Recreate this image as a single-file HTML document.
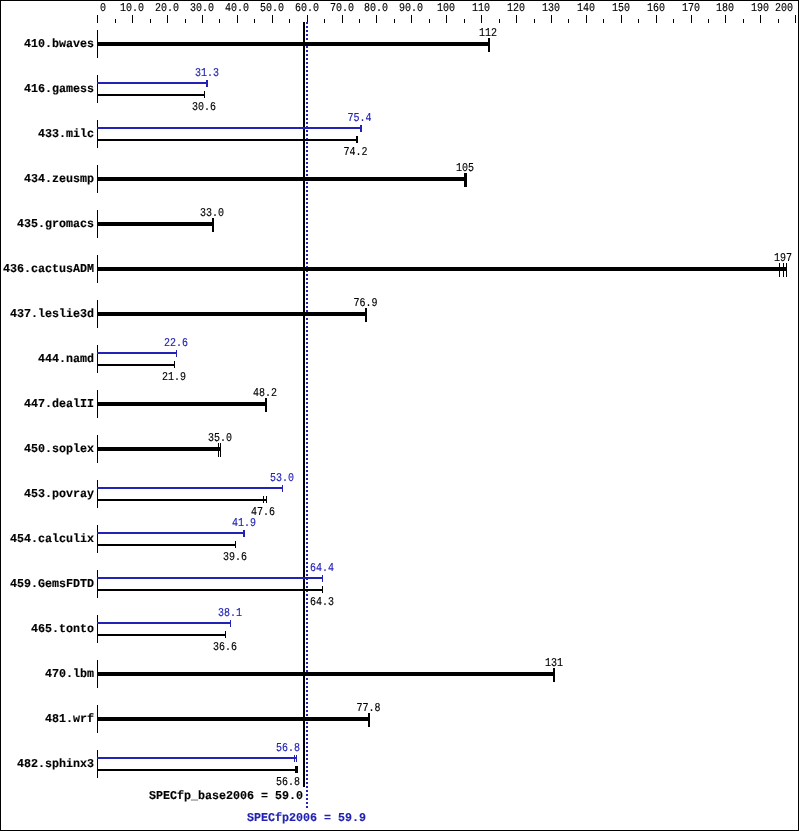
<!DOCTYPE html>
<html lang="en"><head><meta charset="utf-8"><title>SPECfp2006</title>
<style>
html,body{margin:0;padding:0;background:#fff;}
svg{display:block;will-change:transform;}
text{font-family:"Liberation Mono",monospace;white-space:pre;text-rendering:geometricPrecision;}
.r{font-size:12px;stroke-width:0.15px;}
.b{font-size:12px;font-weight:bold;stroke-width:0.15px;}
</style></head><body>
<svg width="799" height="831" viewBox="0 0 799 831">
<rect x="0" y="0" width="799" height="831" fill="#fff"/>
<g shape-rendering="crispEdges">
<rect x="0" y="0" width="799" height="1" fill="#000"/>
<rect x="0" y="830" width="799" height="1" fill="#000"/>
<rect x="0" y="0" width="1" height="831" fill="#000"/>
<rect x="798" y="0" width="1" height="831" fill="#000"/>
<rect x="97" y="15" width="1" height="8" fill="#000"/>
<rect x="115" y="19" width="1" height="4" fill="#000"/>
<rect x="132" y="15" width="1" height="8" fill="#000"/>
<rect x="150" y="19" width="1" height="4" fill="#000"/>
<rect x="167" y="15" width="1" height="8" fill="#000"/>
<rect x="185" y="19" width="1" height="4" fill="#000"/>
<rect x="202" y="15" width="1" height="8" fill="#000"/>
<rect x="219" y="19" width="1" height="4" fill="#000"/>
<rect x="237" y="15" width="1" height="8" fill="#000"/>
<rect x="254" y="19" width="1" height="4" fill="#000"/>
<rect x="272" y="15" width="1" height="8" fill="#000"/>
<rect x="289" y="19" width="1" height="4" fill="#000"/>
<rect x="307" y="15" width="1" height="8" fill="#000"/>
<rect x="324" y="19" width="1" height="4" fill="#000"/>
<rect x="342" y="15" width="1" height="8" fill="#000"/>
<rect x="359" y="19" width="1" height="4" fill="#000"/>
<rect x="376" y="15" width="1" height="8" fill="#000"/>
<rect x="394" y="19" width="1" height="4" fill="#000"/>
<rect x="411" y="15" width="1" height="8" fill="#000"/>
<rect x="429" y="19" width="1" height="4" fill="#000"/>
<rect x="446" y="15" width="1" height="8" fill="#000"/>
<rect x="464" y="19" width="1" height="4" fill="#000"/>
<rect x="481" y="15" width="1" height="8" fill="#000"/>
<rect x="499" y="19" width="1" height="4" fill="#000"/>
<rect x="516" y="15" width="1" height="8" fill="#000"/>
<rect x="534" y="19" width="1" height="4" fill="#000"/>
<rect x="551" y="15" width="1" height="8" fill="#000"/>
<rect x="568" y="19" width="1" height="4" fill="#000"/>
<rect x="586" y="15" width="1" height="8" fill="#000"/>
<rect x="603" y="19" width="1" height="4" fill="#000"/>
<rect x="621" y="15" width="1" height="8" fill="#000"/>
<rect x="638" y="19" width="1" height="4" fill="#000"/>
<rect x="656" y="15" width="1" height="8" fill="#000"/>
<rect x="673" y="19" width="1" height="4" fill="#000"/>
<rect x="691" y="15" width="1" height="8" fill="#000"/>
<rect x="708" y="19" width="1" height="4" fill="#000"/>
<rect x="725" y="15" width="1" height="8" fill="#000"/>
<rect x="743" y="19" width="1" height="4" fill="#000"/>
<rect x="760" y="15" width="1" height="8" fill="#000"/>
<rect x="778" y="19" width="1" height="4" fill="#000"/>
<rect x="795" y="15" width="1" height="8" fill="#000"/>
<rect x="303" y="22" width="2" height="765" fill="#000"/>
<rect x="306" y="22" width="2" height="2" fill="#2222b4"/>
<rect x="306" y="26" width="2" height="2" fill="#2222b4"/>
<rect x="306" y="30" width="2" height="2" fill="#2222b4"/>
<rect x="306" y="34" width="2" height="2" fill="#2222b4"/>
<rect x="306" y="38" width="2" height="2" fill="#2222b4"/>
<rect x="306" y="42" width="2" height="2" fill="#2222b4"/>
<rect x="306" y="46" width="2" height="2" fill="#2222b4"/>
<rect x="306" y="50" width="2" height="2" fill="#2222b4"/>
<rect x="306" y="54" width="2" height="2" fill="#2222b4"/>
<rect x="306" y="58" width="2" height="2" fill="#2222b4"/>
<rect x="306" y="62" width="2" height="2" fill="#2222b4"/>
<rect x="306" y="66" width="2" height="2" fill="#2222b4"/>
<rect x="306" y="70" width="2" height="2" fill="#2222b4"/>
<rect x="306" y="74" width="2" height="2" fill="#2222b4"/>
<rect x="306" y="78" width="2" height="2" fill="#2222b4"/>
<rect x="306" y="82" width="2" height="2" fill="#2222b4"/>
<rect x="306" y="86" width="2" height="2" fill="#2222b4"/>
<rect x="306" y="90" width="2" height="2" fill="#2222b4"/>
<rect x="306" y="94" width="2" height="2" fill="#2222b4"/>
<rect x="306" y="98" width="2" height="2" fill="#2222b4"/>
<rect x="306" y="102" width="2" height="2" fill="#2222b4"/>
<rect x="306" y="106" width="2" height="2" fill="#2222b4"/>
<rect x="306" y="110" width="2" height="2" fill="#2222b4"/>
<rect x="306" y="114" width="2" height="2" fill="#2222b4"/>
<rect x="306" y="118" width="2" height="2" fill="#2222b4"/>
<rect x="306" y="122" width="2" height="2" fill="#2222b4"/>
<rect x="306" y="126" width="2" height="2" fill="#2222b4"/>
<rect x="306" y="130" width="2" height="2" fill="#2222b4"/>
<rect x="306" y="134" width="2" height="2" fill="#2222b4"/>
<rect x="306" y="138" width="2" height="2" fill="#2222b4"/>
<rect x="306" y="142" width="2" height="2" fill="#2222b4"/>
<rect x="306" y="146" width="2" height="2" fill="#2222b4"/>
<rect x="306" y="150" width="2" height="2" fill="#2222b4"/>
<rect x="306" y="154" width="2" height="2" fill="#2222b4"/>
<rect x="306" y="158" width="2" height="2" fill="#2222b4"/>
<rect x="306" y="162" width="2" height="2" fill="#2222b4"/>
<rect x="306" y="166" width="2" height="2" fill="#2222b4"/>
<rect x="306" y="170" width="2" height="2" fill="#2222b4"/>
<rect x="306" y="174" width="2" height="2" fill="#2222b4"/>
<rect x="306" y="178" width="2" height="2" fill="#2222b4"/>
<rect x="306" y="182" width="2" height="2" fill="#2222b4"/>
<rect x="306" y="186" width="2" height="2" fill="#2222b4"/>
<rect x="306" y="190" width="2" height="2" fill="#2222b4"/>
<rect x="306" y="194" width="2" height="2" fill="#2222b4"/>
<rect x="306" y="198" width="2" height="2" fill="#2222b4"/>
<rect x="306" y="202" width="2" height="2" fill="#2222b4"/>
<rect x="306" y="206" width="2" height="2" fill="#2222b4"/>
<rect x="306" y="210" width="2" height="2" fill="#2222b4"/>
<rect x="306" y="214" width="2" height="2" fill="#2222b4"/>
<rect x="306" y="218" width="2" height="2" fill="#2222b4"/>
<rect x="306" y="222" width="2" height="2" fill="#2222b4"/>
<rect x="306" y="226" width="2" height="2" fill="#2222b4"/>
<rect x="306" y="230" width="2" height="2" fill="#2222b4"/>
<rect x="306" y="234" width="2" height="2" fill="#2222b4"/>
<rect x="306" y="238" width="2" height="2" fill="#2222b4"/>
<rect x="306" y="242" width="2" height="2" fill="#2222b4"/>
<rect x="306" y="246" width="2" height="2" fill="#2222b4"/>
<rect x="306" y="250" width="2" height="2" fill="#2222b4"/>
<rect x="306" y="254" width="2" height="2" fill="#2222b4"/>
<rect x="306" y="258" width="2" height="2" fill="#2222b4"/>
<rect x="306" y="262" width="2" height="2" fill="#2222b4"/>
<rect x="306" y="266" width="2" height="2" fill="#2222b4"/>
<rect x="306" y="270" width="2" height="2" fill="#2222b4"/>
<rect x="306" y="274" width="2" height="2" fill="#2222b4"/>
<rect x="306" y="278" width="2" height="2" fill="#2222b4"/>
<rect x="306" y="282" width="2" height="2" fill="#2222b4"/>
<rect x="306" y="286" width="2" height="2" fill="#2222b4"/>
<rect x="306" y="290" width="2" height="2" fill="#2222b4"/>
<rect x="306" y="294" width="2" height="2" fill="#2222b4"/>
<rect x="306" y="298" width="2" height="2" fill="#2222b4"/>
<rect x="306" y="302" width="2" height="2" fill="#2222b4"/>
<rect x="306" y="306" width="2" height="2" fill="#2222b4"/>
<rect x="306" y="310" width="2" height="2" fill="#2222b4"/>
<rect x="306" y="314" width="2" height="2" fill="#2222b4"/>
<rect x="306" y="318" width="2" height="2" fill="#2222b4"/>
<rect x="306" y="322" width="2" height="2" fill="#2222b4"/>
<rect x="306" y="326" width="2" height="2" fill="#2222b4"/>
<rect x="306" y="330" width="2" height="2" fill="#2222b4"/>
<rect x="306" y="334" width="2" height="2" fill="#2222b4"/>
<rect x="306" y="338" width="2" height="2" fill="#2222b4"/>
<rect x="306" y="342" width="2" height="2" fill="#2222b4"/>
<rect x="306" y="346" width="2" height="2" fill="#2222b4"/>
<rect x="306" y="350" width="2" height="2" fill="#2222b4"/>
<rect x="306" y="354" width="2" height="2" fill="#2222b4"/>
<rect x="306" y="358" width="2" height="2" fill="#2222b4"/>
<rect x="306" y="362" width="2" height="2" fill="#2222b4"/>
<rect x="306" y="366" width="2" height="2" fill="#2222b4"/>
<rect x="306" y="370" width="2" height="2" fill="#2222b4"/>
<rect x="306" y="374" width="2" height="2" fill="#2222b4"/>
<rect x="306" y="378" width="2" height="2" fill="#2222b4"/>
<rect x="306" y="382" width="2" height="2" fill="#2222b4"/>
<rect x="306" y="386" width="2" height="2" fill="#2222b4"/>
<rect x="306" y="390" width="2" height="2" fill="#2222b4"/>
<rect x="306" y="394" width="2" height="2" fill="#2222b4"/>
<rect x="306" y="398" width="2" height="2" fill="#2222b4"/>
<rect x="306" y="402" width="2" height="2" fill="#2222b4"/>
<rect x="306" y="406" width="2" height="2" fill="#2222b4"/>
<rect x="306" y="410" width="2" height="2" fill="#2222b4"/>
<rect x="306" y="414" width="2" height="2" fill="#2222b4"/>
<rect x="306" y="418" width="2" height="2" fill="#2222b4"/>
<rect x="306" y="422" width="2" height="2" fill="#2222b4"/>
<rect x="306" y="426" width="2" height="2" fill="#2222b4"/>
<rect x="306" y="430" width="2" height="2" fill="#2222b4"/>
<rect x="306" y="434" width="2" height="2" fill="#2222b4"/>
<rect x="306" y="438" width="2" height="2" fill="#2222b4"/>
<rect x="306" y="442" width="2" height="2" fill="#2222b4"/>
<rect x="306" y="446" width="2" height="2" fill="#2222b4"/>
<rect x="306" y="450" width="2" height="2" fill="#2222b4"/>
<rect x="306" y="454" width="2" height="2" fill="#2222b4"/>
<rect x="306" y="458" width="2" height="2" fill="#2222b4"/>
<rect x="306" y="462" width="2" height="2" fill="#2222b4"/>
<rect x="306" y="466" width="2" height="2" fill="#2222b4"/>
<rect x="306" y="470" width="2" height="2" fill="#2222b4"/>
<rect x="306" y="474" width="2" height="2" fill="#2222b4"/>
<rect x="306" y="478" width="2" height="2" fill="#2222b4"/>
<rect x="306" y="482" width="2" height="2" fill="#2222b4"/>
<rect x="306" y="486" width="2" height="2" fill="#2222b4"/>
<rect x="306" y="490" width="2" height="2" fill="#2222b4"/>
<rect x="306" y="494" width="2" height="2" fill="#2222b4"/>
<rect x="306" y="498" width="2" height="2" fill="#2222b4"/>
<rect x="306" y="502" width="2" height="2" fill="#2222b4"/>
<rect x="306" y="506" width="2" height="2" fill="#2222b4"/>
<rect x="306" y="510" width="2" height="2" fill="#2222b4"/>
<rect x="306" y="514" width="2" height="2" fill="#2222b4"/>
<rect x="306" y="518" width="2" height="2" fill="#2222b4"/>
<rect x="306" y="522" width="2" height="2" fill="#2222b4"/>
<rect x="306" y="526" width="2" height="2" fill="#2222b4"/>
<rect x="306" y="530" width="2" height="2" fill="#2222b4"/>
<rect x="306" y="534" width="2" height="2" fill="#2222b4"/>
<rect x="306" y="538" width="2" height="2" fill="#2222b4"/>
<rect x="306" y="542" width="2" height="2" fill="#2222b4"/>
<rect x="306" y="546" width="2" height="2" fill="#2222b4"/>
<rect x="306" y="550" width="2" height="2" fill="#2222b4"/>
<rect x="306" y="554" width="2" height="2" fill="#2222b4"/>
<rect x="306" y="558" width="2" height="2" fill="#2222b4"/>
<rect x="306" y="562" width="2" height="2" fill="#2222b4"/>
<rect x="306" y="566" width="2" height="2" fill="#2222b4"/>
<rect x="306" y="570" width="2" height="2" fill="#2222b4"/>
<rect x="306" y="574" width="2" height="2" fill="#2222b4"/>
<rect x="306" y="578" width="2" height="2" fill="#2222b4"/>
<rect x="306" y="582" width="2" height="2" fill="#2222b4"/>
<rect x="306" y="586" width="2" height="2" fill="#2222b4"/>
<rect x="306" y="590" width="2" height="2" fill="#2222b4"/>
<rect x="306" y="594" width="2" height="2" fill="#2222b4"/>
<rect x="306" y="598" width="2" height="2" fill="#2222b4"/>
<rect x="306" y="602" width="2" height="2" fill="#2222b4"/>
<rect x="306" y="606" width="2" height="2" fill="#2222b4"/>
<rect x="306" y="610" width="2" height="2" fill="#2222b4"/>
<rect x="306" y="614" width="2" height="2" fill="#2222b4"/>
<rect x="306" y="618" width="2" height="2" fill="#2222b4"/>
<rect x="306" y="622" width="2" height="2" fill="#2222b4"/>
<rect x="306" y="626" width="2" height="2" fill="#2222b4"/>
<rect x="306" y="630" width="2" height="2" fill="#2222b4"/>
<rect x="306" y="634" width="2" height="2" fill="#2222b4"/>
<rect x="306" y="638" width="2" height="2" fill="#2222b4"/>
<rect x="306" y="642" width="2" height="2" fill="#2222b4"/>
<rect x="306" y="646" width="2" height="2" fill="#2222b4"/>
<rect x="306" y="650" width="2" height="2" fill="#2222b4"/>
<rect x="306" y="654" width="2" height="2" fill="#2222b4"/>
<rect x="306" y="658" width="2" height="2" fill="#2222b4"/>
<rect x="306" y="662" width="2" height="2" fill="#2222b4"/>
<rect x="306" y="666" width="2" height="2" fill="#2222b4"/>
<rect x="306" y="670" width="2" height="2" fill="#2222b4"/>
<rect x="306" y="674" width="2" height="2" fill="#2222b4"/>
<rect x="306" y="678" width="2" height="2" fill="#2222b4"/>
<rect x="306" y="682" width="2" height="2" fill="#2222b4"/>
<rect x="306" y="686" width="2" height="2" fill="#2222b4"/>
<rect x="306" y="690" width="2" height="2" fill="#2222b4"/>
<rect x="306" y="694" width="2" height="2" fill="#2222b4"/>
<rect x="306" y="698" width="2" height="2" fill="#2222b4"/>
<rect x="306" y="702" width="2" height="2" fill="#2222b4"/>
<rect x="306" y="706" width="2" height="2" fill="#2222b4"/>
<rect x="306" y="710" width="2" height="2" fill="#2222b4"/>
<rect x="306" y="714" width="2" height="2" fill="#2222b4"/>
<rect x="306" y="718" width="2" height="2" fill="#2222b4"/>
<rect x="306" y="722" width="2" height="2" fill="#2222b4"/>
<rect x="306" y="726" width="2" height="2" fill="#2222b4"/>
<rect x="306" y="730" width="2" height="2" fill="#2222b4"/>
<rect x="306" y="734" width="2" height="2" fill="#2222b4"/>
<rect x="306" y="738" width="2" height="2" fill="#2222b4"/>
<rect x="306" y="742" width="2" height="2" fill="#2222b4"/>
<rect x="306" y="746" width="2" height="2" fill="#2222b4"/>
<rect x="306" y="750" width="2" height="2" fill="#2222b4"/>
<rect x="306" y="754" width="2" height="2" fill="#2222b4"/>
<rect x="306" y="758" width="2" height="2" fill="#2222b4"/>
<rect x="306" y="762" width="2" height="2" fill="#2222b4"/>
<rect x="306" y="766" width="2" height="2" fill="#2222b4"/>
<rect x="306" y="770" width="2" height="2" fill="#2222b4"/>
<rect x="306" y="774" width="2" height="2" fill="#2222b4"/>
<rect x="306" y="778" width="2" height="2" fill="#2222b4"/>
<rect x="306" y="782" width="2" height="2" fill="#2222b4"/>
<rect x="306" y="786" width="2" height="2" fill="#2222b4"/>
<rect x="306" y="790" width="2" height="2" fill="#2222b4"/>
<rect x="306" y="794" width="2" height="2" fill="#2222b4"/>
<rect x="306" y="798" width="2" height="2" fill="#2222b4"/>
<rect x="306" y="802" width="2" height="2" fill="#2222b4"/>
<rect x="306" y="806" width="2" height="2" fill="#2222b4"/>
<rect x="97" y="30" width="1" height="28" fill="#000"/>
<rect x="97" y="42" width="393" height="4" fill="#000"/>
<rect x="488" y="38" width="1" height="14" fill="#000"/>
<rect x="489" y="38" width="1" height="14" fill="#000"/>
<rect x="97" y="75" width="1" height="28" fill="#000"/>
<rect x="97" y="94" width="108" height="2" fill="#000"/>
<rect x="204" y="91" width="1" height="7" fill="#000"/>
<rect x="97" y="82" width="111" height="2" fill="#2222b4"/>
<rect x="206" y="80" width="1" height="7" fill="#2222b4"/>
<rect x="207" y="80" width="1" height="7" fill="#2222b4"/>
<rect x="97" y="120" width="1" height="28" fill="#000"/>
<rect x="97" y="139" width="261" height="2" fill="#000"/>
<rect x="356" y="136" width="1" height="7" fill="#000"/>
<rect x="357" y="136" width="1" height="7" fill="#000"/>
<rect x="97" y="127" width="265" height="2" fill="#2222b4"/>
<rect x="360" y="125" width="1" height="7" fill="#2222b4"/>
<rect x="361" y="125" width="1" height="7" fill="#2222b4"/>
<rect x="97" y="165" width="1" height="28" fill="#000"/>
<rect x="97" y="177" width="370" height="4" fill="#000"/>
<rect x="464" y="173" width="1" height="14" fill="#000"/>
<rect x="465" y="173" width="1" height="14" fill="#000"/>
<rect x="466" y="173" width="1" height="14" fill="#000"/>
<rect x="97" y="210" width="1" height="28" fill="#000"/>
<rect x="97" y="222" width="117" height="4" fill="#000"/>
<rect x="212" y="218" width="1" height="14" fill="#000"/>
<rect x="213" y="218" width="1" height="14" fill="#000"/>
<rect x="97" y="255" width="1" height="28" fill="#000"/>
<rect x="97" y="267" width="690" height="4" fill="#000"/>
<rect x="779" y="263" width="1" height="14" fill="#000"/>
<rect x="783" y="263" width="1" height="14" fill="#000"/>
<rect x="786" y="263" width="1" height="14" fill="#000"/>
<rect x="97" y="300" width="1" height="28" fill="#000"/>
<rect x="97" y="312" width="270" height="4" fill="#000"/>
<rect x="365" y="308" width="1" height="14" fill="#000"/>
<rect x="366" y="308" width="1" height="14" fill="#000"/>
<rect x="97" y="345" width="1" height="28" fill="#000"/>
<rect x="97" y="364" width="78" height="2" fill="#000"/>
<rect x="174" y="361" width="1" height="7" fill="#000"/>
<rect x="97" y="352" width="80" height="2" fill="#2222b4"/>
<rect x="176" y="350" width="1" height="7" fill="#2222b4"/>
<rect x="97" y="390" width="1" height="28" fill="#000"/>
<rect x="97" y="402" width="170" height="4" fill="#000"/>
<rect x="265" y="398" width="1" height="14" fill="#000"/>
<rect x="266" y="398" width="1" height="14" fill="#000"/>
<rect x="97" y="435" width="1" height="28" fill="#000"/>
<rect x="97" y="447" width="124" height="4" fill="#000"/>
<rect x="218" y="443" width="1" height="14" fill="#000"/>
<rect x="220" y="443" width="1" height="14" fill="#000"/>
<rect x="97" y="480" width="1" height="28" fill="#000"/>
<rect x="97" y="499" width="170" height="2" fill="#000"/>
<rect x="263" y="496" width="1" height="7" fill="#000"/>
<rect x="266" y="496" width="1" height="7" fill="#000"/>
<rect x="97" y="487" width="186" height="2" fill="#2222b4"/>
<rect x="282" y="485" width="1" height="7" fill="#2222b4"/>
<rect x="97" y="525" width="1" height="28" fill="#000"/>
<rect x="97" y="544" width="139" height="2" fill="#000"/>
<rect x="235" y="541" width="1" height="7" fill="#000"/>
<rect x="97" y="532" width="148" height="2" fill="#2222b4"/>
<rect x="243" y="530" width="1" height="7" fill="#2222b4"/>
<rect x="244" y="530" width="1" height="7" fill="#2222b4"/>
<rect x="97" y="570" width="1" height="28" fill="#000"/>
<rect x="97" y="589" width="226" height="2" fill="#000"/>
<rect x="322" y="586" width="1" height="7" fill="#000"/>
<rect x="97" y="577" width="226" height="2" fill="#2222b4"/>
<rect x="322" y="575" width="1" height="7" fill="#2222b4"/>
<rect x="97" y="615" width="1" height="28" fill="#000"/>
<rect x="97" y="634" width="129" height="2" fill="#000"/>
<rect x="225" y="631" width="1" height="7" fill="#000"/>
<rect x="97" y="622" width="134" height="2" fill="#2222b4"/>
<rect x="230" y="620" width="1" height="7" fill="#2222b4"/>
<rect x="97" y="660" width="1" height="28" fill="#000"/>
<rect x="97" y="672" width="458" height="4" fill="#000"/>
<rect x="553" y="668" width="1" height="14" fill="#000"/>
<rect x="554" y="668" width="1" height="14" fill="#000"/>
<rect x="97" y="705" width="1" height="28" fill="#000"/>
<rect x="97" y="717" width="273" height="4" fill="#000"/>
<rect x="368" y="713" width="1" height="14" fill="#000"/>
<rect x="369" y="713" width="1" height="14" fill="#000"/>
<rect x="97" y="750" width="1" height="28" fill="#000"/>
<rect x="97" y="769" width="201" height="2" fill="#000"/>
<rect x="295" y="766" width="1" height="7" fill="#000"/>
<rect x="296" y="766" width="1" height="7" fill="#000"/>
<rect x="297" y="766" width="1" height="7" fill="#000"/>
<rect x="97" y="757" width="200" height="2" fill="#2222b4"/>
<rect x="294" y="755" width="1" height="7" fill="#2222b4"/>
<rect x="296" y="755" width="1" height="7" fill="#2222b4"/>
</g>
<text class="r" fill="#000" stroke="#000" transform="translate(100.00,11.00) scale(0.8333,1)">0</text>
<text class="r" fill="#000" stroke="#000" transform="translate(120.00,11.00) scale(0.8333,1)">10.0</text>
<text class="r" fill="#000" stroke="#000" transform="translate(155.00,11.00) scale(0.8333,1)">20.0</text>
<text class="r" fill="#000" stroke="#000" transform="translate(190.00,11.00) scale(0.8333,1)">30.0</text>
<text class="r" fill="#000" stroke="#000" transform="translate(225.00,11.00) scale(0.8333,1)">40.0</text>
<text class="r" fill="#000" stroke="#000" transform="translate(260.00,11.00) scale(0.8333,1)">50.0</text>
<text class="r" fill="#000" stroke="#000" transform="translate(295.00,11.00) scale(0.8333,1)">60.0</text>
<text class="r" fill="#000" stroke="#000" transform="translate(330.00,11.00) scale(0.8333,1)">70.0</text>
<text class="r" fill="#000" stroke="#000" transform="translate(364.00,11.00) scale(0.8333,1)">80.0</text>
<text class="r" fill="#000" stroke="#000" transform="translate(399.00,11.00) scale(0.8333,1)">90.0</text>
<text class="r" fill="#000" stroke="#000" transform="translate(437.00,11.00) scale(0.8333,1)">100</text>
<text class="r" fill="#000" stroke="#000" transform="translate(472.00,11.00) scale(0.8333,1)">110</text>
<text class="r" fill="#000" stroke="#000" transform="translate(507.00,11.00) scale(0.8333,1)">120</text>
<text class="r" fill="#000" stroke="#000" transform="translate(542.00,11.00) scale(0.8333,1)">130</text>
<text class="r" fill="#000" stroke="#000" transform="translate(577.00,11.00) scale(0.8333,1)">140</text>
<text class="r" fill="#000" stroke="#000" transform="translate(612.00,11.00) scale(0.8333,1)">150</text>
<text class="r" fill="#000" stroke="#000" transform="translate(647.00,11.00) scale(0.8333,1)">160</text>
<text class="r" fill="#000" stroke="#000" transform="translate(682.00,11.00) scale(0.8333,1)">170</text>
<text class="r" fill="#000" stroke="#000" transform="translate(716.00,11.00) scale(0.8333,1)">180</text>
<text class="r" fill="#000" stroke="#000" transform="translate(751.00,11.00) scale(0.8333,1)">190</text>
<text class="r" fill="#000" stroke="#000" transform="translate(775.00,11.00) scale(0.8333,1)">200</text>
<text class="b" fill="#000" stroke="#000" transform="translate(24.00,47.00) scale(0.9722,1)">410.bwaves</text>
<text class="r" fill="#000" stroke="#000" transform="translate(479.00,36.00) scale(0.8333,1)">112</text>
<text class="b" fill="#000" stroke="#000" transform="translate(24.00,92.00) scale(0.9722,1)">416.gamess</text>
<text class="r" fill="#2222b4" stroke="#2222b4" transform="translate(195.00,76.00) scale(0.8333,1)">31.3</text>
<text class="r" fill="#000" stroke="#000" transform="translate(192.00,110.00) scale(0.8333,1)">30.6</text>
<text class="b" fill="#000" stroke="#000" transform="translate(38.00,137.00) scale(0.9722,1)">433.milc</text>
<text class="r" fill="#2222b4" stroke="#2222b4" transform="translate(347.40,121.00) scale(0.8333,1)">75.4</text>
<text class="r" fill="#000" stroke="#000" transform="translate(343.40,155.00) scale(0.8333,1)">74.2</text>
<text class="b" fill="#000" stroke="#000" transform="translate(24.00,182.00) scale(0.9722,1)">434.zeusmp</text>
<text class="r" fill="#000" stroke="#000" transform="translate(456.00,171.00) scale(0.8333,1)">105</text>
<text class="b" fill="#000" stroke="#000" transform="translate(17.00,227.00) scale(0.9722,1)">435.gromacs</text>
<text class="r" fill="#000" stroke="#000" transform="translate(200.00,216.00) scale(0.8333,1)">33.0</text>
<text class="b" fill="#000" stroke="#000" transform="translate(3.00,272.00) scale(0.9722,1)">436.cactusADM</text>
<text class="r" fill="#000" stroke="#000" transform="translate(774.00,261.00) scale(0.8333,1)">197</text>
<text class="b" fill="#000" stroke="#000" transform="translate(10.00,317.00) scale(0.9722,1)">437.leslie3d</text>
<text class="r" fill="#000" stroke="#000" transform="translate(353.40,306.00) scale(0.8333,1)">76.9</text>
<text class="b" fill="#000" stroke="#000" transform="translate(38.00,362.00) scale(0.9722,1)">444.namd</text>
<text class="r" fill="#2222b4" stroke="#2222b4" transform="translate(164.00,346.00) scale(0.8333,1)">22.6</text>
<text class="r" fill="#000" stroke="#000" transform="translate(162.00,380.00) scale(0.8333,1)">21.9</text>
<text class="b" fill="#000" stroke="#000" transform="translate(24.00,407.00) scale(0.9722,1)">447.dealII</text>
<text class="r" fill="#000" stroke="#000" transform="translate(253.00,396.00) scale(0.8333,1)">48.2</text>
<text class="b" fill="#000" stroke="#000" transform="translate(24.00,452.00) scale(0.9722,1)">450.soplex</text>
<text class="r" fill="#000" stroke="#000" transform="translate(208.00,441.00) scale(0.8333,1)">35.0</text>
<text class="b" fill="#000" stroke="#000" transform="translate(24.00,497.00) scale(0.9722,1)">453.povray</text>
<text class="r" fill="#2222b4" stroke="#2222b4" transform="translate(270.00,481.00) scale(0.8333,1)">53.0</text>
<text class="r" fill="#000" stroke="#000" transform="translate(251.00,515.00) scale(0.8333,1)">47.6</text>
<text class="b" fill="#000" stroke="#000" transform="translate(10.00,542.00) scale(0.9722,1)">454.calculix</text>
<text class="r" fill="#2222b4" stroke="#2222b4" transform="translate(232.00,526.00) scale(0.8333,1)">41.9</text>
<text class="r" fill="#000" stroke="#000" transform="translate(223.00,560.00) scale(0.8333,1)">39.6</text>
<text class="b" fill="#000" stroke="#000" transform="translate(10.00,587.00) scale(0.9722,1)">459.GemsFDTD</text>
<text class="r" fill="#2222b4" stroke="#2222b4" transform="translate(310.00,571.00) scale(0.8333,1)">64.4</text>
<text class="r" fill="#000" stroke="#000" transform="translate(310.00,605.00) scale(0.8333,1)">64.3</text>
<text class="b" fill="#000" stroke="#000" transform="translate(31.00,632.00) scale(0.9722,1)">465.tonto</text>
<text class="r" fill="#2222b4" stroke="#2222b4" transform="translate(218.00,616.00) scale(0.8333,1)">38.1</text>
<text class="r" fill="#000" stroke="#000" transform="translate(213.00,650.00) scale(0.8333,1)">36.6</text>
<text class="b" fill="#000" stroke="#000" transform="translate(45.00,677.00) scale(0.9722,1)">470.lbm</text>
<text class="r" fill="#000" stroke="#000" transform="translate(545.00,666.00) scale(0.8333,1)">131</text>
<text class="b" fill="#000" stroke="#000" transform="translate(45.00,722.00) scale(0.9722,1)">481.wrf</text>
<text class="r" fill="#000" stroke="#000" transform="translate(356.40,711.00) scale(0.8333,1)">77.8</text>
<text class="b" fill="#000" stroke="#000" transform="translate(17.00,767.00) scale(0.9722,1)">482.sphinx3</text>
<text class="r" fill="#2222b4" stroke="#2222b4" transform="translate(276.00,751.00) scale(0.8333,1)">56.8</text>
<text class="r" fill="#000" stroke="#000" transform="translate(276.00,785.00) scale(0.8333,1)">56.8</text>
<text class="b" fill="#000" stroke="#000" transform="translate(149.00,799.00) scale(0.9722,1)">SPECfp_base2006 = 59.0</text>
<text class="b" fill="#2222b4" stroke="#2222b4" transform="translate(247.00,821.00) scale(0.9722,1)">SPECfp2006 = 59.9</text>
</svg>
</body></html>
